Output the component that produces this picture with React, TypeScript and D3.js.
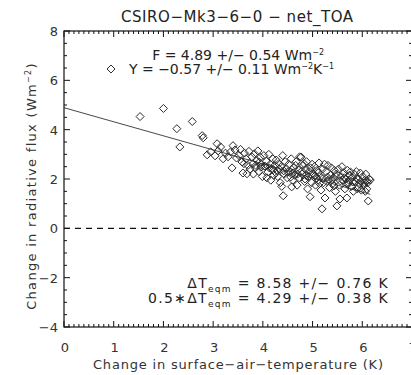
import React from 'react';
import * as d3 from 'd3';

const titleText = 'CSIRO\u2212Mk3\u22126\u22120 \u2212 net_TOA';
const xTitle = 'Change in surface\u2212air\u2212temperature (K)';
const yTitle = 'Change in radiative flux (Wm';

const xTickValues = [0, 1, 2, 3, 4, 5, 6, 7];
const yTickValues = [-4, -2, 0, 2, 4, 6, 8];

const fitIntercept = 4.89;
const fitSlope = -0.57;
const fitXEnd = 6.16;

const tempChange = [
  1.53, 2.0, 2.58, 2.27, 2.33, 2.78, 2.8, 2.88, 3.08, 3.1, 3.04, 3.2, 3.4, 3.38, 3.44, 3.25, 3.15, 3.3, 3.47, 2.95, 3.35,
  3.52, 3.58, 3.6, 3.63, 3.66, 3.7, 3.72, 3.68, 3.55, 3.74,
  3.78, 3.8, 3.83, 3.85, 3.88, 3.9, 3.92, 3.95, 3.97, 3.99, 3.81, 3.93,
  4.02, 4.05, 4.07, 4.1, 4.12, 4.15, 4.18, 4.2, 4.22, 4.24, 4.08, 4.16,
  4.27, 4.29, 4.32, 4.35, 4.37, 4.4, 4.41, 4.43, 4.45, 4.47, 4.49, 4.3, 4.38,
  4.52, 4.55, 4.57, 4.6, 4.62, 4.64, 4.67, 4.69, 4.71, 4.73, 4.74, 4.58, 4.66,
  4.77, 4.79, 4.81, 4.84, 4.86, 4.88, 4.9, 4.92, 4.95, 4.96, 4.98, 4.83, 4.93, 4.99,
  5.02, 5.04, 5.06, 5.09, 5.11, 5.13, 5.15, 5.17, 5.19, 5.2, 5.22, 5.24, 5.25, 5.08,
  5.27, 5.29, 5.31, 5.34, 5.36, 5.38, 5.4, 5.42, 5.44, 5.46, 5.48, 5.49, 5.33,
  5.52, 5.54, 5.55, 5.57, 5.59, 5.61, 5.63, 5.65, 5.67, 5.69, 5.7, 5.72, 5.74,
  5.76, 5.78, 5.8, 5.82, 5.84, 5.86, 5.88, 5.9, 5.92, 5.94, 5.96, 5.98,
  6.01, 6.03, 6.05, 6.07, 6.09, 6.11, 6.12, 6.14, 6.16, 6.06,
  3.62, 3.86, 3.96, 4.04, 4.13, 4.21, 4.33, 4.42, 4.5, 4.61, 4.7, 4.78, 4.87, 4.97,
  5.05, 5.12, 5.21, 5.3, 5.39, 5.47, 5.56, 5.64, 5.73, 5.81, 5.89, 5.97, 6.04, 6.1,
  4.26, 4.56, 4.85, 5.14, 5.43, 5.71, 5.93,
];

const fluxChange = [
  4.53, 4.86, 4.33, 4.04, 3.3, 3.76, 3.67, 2.98, 3.43, 3.14, 2.94, 2.82, 3.35, 2.45, 3.18, 3.05, 3.3, 2.9, 2.85, 3.1, 3.1,
  2.95, 2.69, 2.24, 3.05, 2.82, 2.55, 3.12, 2.21, 3.2, 2.4,
  2.9, 2.62, 3.02, 2.45, 2.75, 3.14, 2.3, 2.88, 2.58, 2.1, 2.2, 2.68,
  2.95, 2.5, 2.72, 2.28, 3.0, 2.6, 2.4, 2.82, 2.15, 2.55, 2.05, 1.95,
  2.77, 2.35, 2.62, 1.85, 2.5, 2.95, 1.32, 2.2, 2.7, 2.42, 2.05, 2.1, 1.7,
  2.6, 2.3, 2.82, 1.95, 2.45, 2.15, 2.7, 1.75, 2.38, 2.05, 2.9, 1.68, 2.55,
  2.89, 2.2, 2.55, 1.9, 2.4, 2.7, 1.6, 2.1, 1.28, 2.45, 1.85, 2.62, 2.3, 2.6,
  2.2, 2.5, 1.75, 2.35, 1.95, 2.65, 2.1, 1.55, 0.79, 2.4, 1.85, 2.6, 1.23, 2.05,
  2.3, 1.9, 2.55, 1.65, 2.15, 2.45, 1.8, 2.05, 2.35, 1.5, 2.2, 0.91, 1.98,
  2.4, 1.75, 1.19, 2.1, 2.5, 1.95, 2.25, 1.6, 2.0, 1.23, 2.35, 1.85, 2.15,
  2.29, 1.7, 2.05, 1.5, 2.2, 1.9, 2.3, 1.6, 2.0, 1.8, 2.24, 1.55,
  2.1, 1.75, 1.95, 2.2, 1.6, 1.85, 1.11, 2.0, 1.96, 1.5,
  2.62, 2.55, 2.48, 2.52, 2.45, 2.38, 2.4, 2.33, 2.28, 2.25, 2.2, 2.32, 2.15, 2.18,
  2.12, 2.26, 2.02, 2.08, 1.98, 2.1, 1.92, 2.05, 1.95, 1.88, 2.02, 1.9, 1.85, 1.92,
  2.25, 2.08, 2.0, 1.82, 1.72, 1.78, 1.68,
];

const W = 411;
const H = 375;
const left = 64;
const right = 412;
const top = 31;
const bottom = 327;
const font = '"DejaVu Sans", "Liberation Sans", sans-serif';
const ink = '#111';

export default function App() {
  const x = d3.scaleLinear().domain([0, 7]).range([left, right]);
  const y = d3.scaleLinear().domain([-4, 8]).range([bottom, top]);

  const xMinor = d3.range(0, 70).map((i) => i / 10).filter((v) => Math.abs(v - Math.round(v)) > 1e-6);
  const yMinor = d3.range(-8, 17).map((i) => i / 2).filter((v) => Math.abs(v / 2 - Math.round(v / 2)) > 1e-6);

  const fitLine = d3
    .line<number>()
    .x((d) => x(d))
    .y((d) => y(fitIntercept + fitSlope * d));

  const diamond = (cx: number, cy: number) => `M${cx},${cy - 4}L${cx + 4},${cy}L${cx},${cy + 4}L${cx - 4},${cy}Z`;

  return (
    <svg width={W} height={H} style={{ position: 'absolute', left: 0, top: 0, background: '#fff' }}>
      <rect x={0} y={0} width={W} height={H} fill="#fff" />
      <text x={237} y={22} textAnchor="middle" fontFamily={font} fontSize={15} fill="#222" textLength={232} lengthAdjust="spacing">
        {titleText}
      </text>

      <line x1={x(0)} x2={x(7)} y1={y(0)} y2={y(0)} stroke={ink} strokeWidth={1.3} strokeDasharray="6,5" />

      <path d={fitLine([0, fitXEnd]) || ''} fill="none" stroke="#333" strokeWidth={0.9} />

      <g fill="none" stroke="#2a2a2a" strokeWidth={1}>
        {tempChange.map((t, i) => (
          <path key={i} d={diamond(x(t), y(fluxChange[i]))} />
        ))}
      </g>

      <rect x={left} y={top} width={right - left} height={bottom - top} fill="none" stroke={ink} strokeWidth={1.2} />

      <g stroke={ink} strokeWidth={1}>
        {xTickValues.map((v) => (
          <g key={'xm' + v}>
            <line x1={x(v)} x2={x(v)} y1={bottom} y2={bottom - 6} />
            <line x1={x(v)} x2={x(v)} y1={top} y2={top + 6} />
          </g>
        ))}
        {xMinor.map((v) => (
          <g key={'xn' + v}>
            <line x1={x(v)} x2={x(v)} y1={bottom} y2={bottom - 3} />
            <line x1={x(v)} x2={x(v)} y1={top} y2={top + 3} />
          </g>
        ))}
        {yTickValues.map((v) => (
          <g key={'ym' + v}>
            <line x1={left} x2={left + 6} y1={y(v)} y2={y(v)} />
            <line x1={right} x2={right - 6} y1={y(v)} y2={y(v)} />
          </g>
        ))}
        {yMinor.map((v) => (
          <g key={'yn' + v}>
            <line x1={left} x2={left + 3} y1={y(v)} y2={y(v)} />
            <line x1={right} x2={right - 3} y1={y(v)} y2={y(v)} />
          </g>
        ))}
      </g>

      <g fontFamily={font} fontSize={13} fill="#333">
        {xTickValues.map((v) => (
          <text key={'xl' + v} x={x(v) + 1} y={352} textAnchor="middle">
            {String(v)}
          </text>
        ))}
        {yTickValues.map((v) => (
          <text key={'yl' + v} x={58} y={y(v) + 5} textAnchor="end">
            {v < 0 ? '\u2212' + Math.abs(v) : String(v)}
          </text>
        ))}
      </g>

      <text x={238} y={369} textAnchor="middle" fontFamily={font} fontSize={13} fill="#333" textLength={290} lengthAdjust="spacing">
        {xTitle}
      </text>
      <g transform={`translate(36,${186}) rotate(-90)`}>
        <text x={0} y={0} textAnchor="middle" fontFamily={font} fontSize={13} fill="#333" letterSpacing={1.3}>
          {yTitle}
          <tspan dy={-5} fontSize={8}>{'\u22122'}</tspan>
          <tspan dy={5}>)</tspan>
        </text>
      </g>

      <g fontFamily={font} fontSize={14} fill="#222">
        <text x={324} y={60} textAnchor="end">
          {'F = 4.89 +/\u2212 0.54 Wm'}
          <tspan dy={-5} fontSize={8}>{'\u22122'}</tspan>
        </text>
        <path d={diamond(111, 69)} fill="none" stroke="#333" strokeWidth={1} />
        <text x={334} y={74} textAnchor="end">
          {'Y = \u22120.57 +/\u2212 0.11 Wm'}
          <tspan dy={-5} fontSize={8}>{'\u22122'}</tspan>
          <tspan dy={5}>K</tspan>
          <tspan dy={-5} fontSize={8}>{'\u22121'}</tspan>
        </text>
      </g>
      <g fontFamily={font} fontSize={14} fill="#222" letterSpacing={1.3}>
        <text x={389} y={288} textAnchor="end">
          {'\u0394T'}
          <tspan dy={4} fontSize={9}>eqm</tspan>
          <tspan dy={-4}>{' = 8.58 +/\u2212 0.76 K'}</tspan>
        </text>
        <text x={389} y={303} textAnchor="end">
          {'0.5\u2217\u0394T'}
          <tspan dy={4} fontSize={9}>eqm</tspan>
          <tspan dy={-4}>{' = 4.29 +/\u2212 0.38 K'}</tspan>
        </text>
      </g>
    </svg>
  );
}
